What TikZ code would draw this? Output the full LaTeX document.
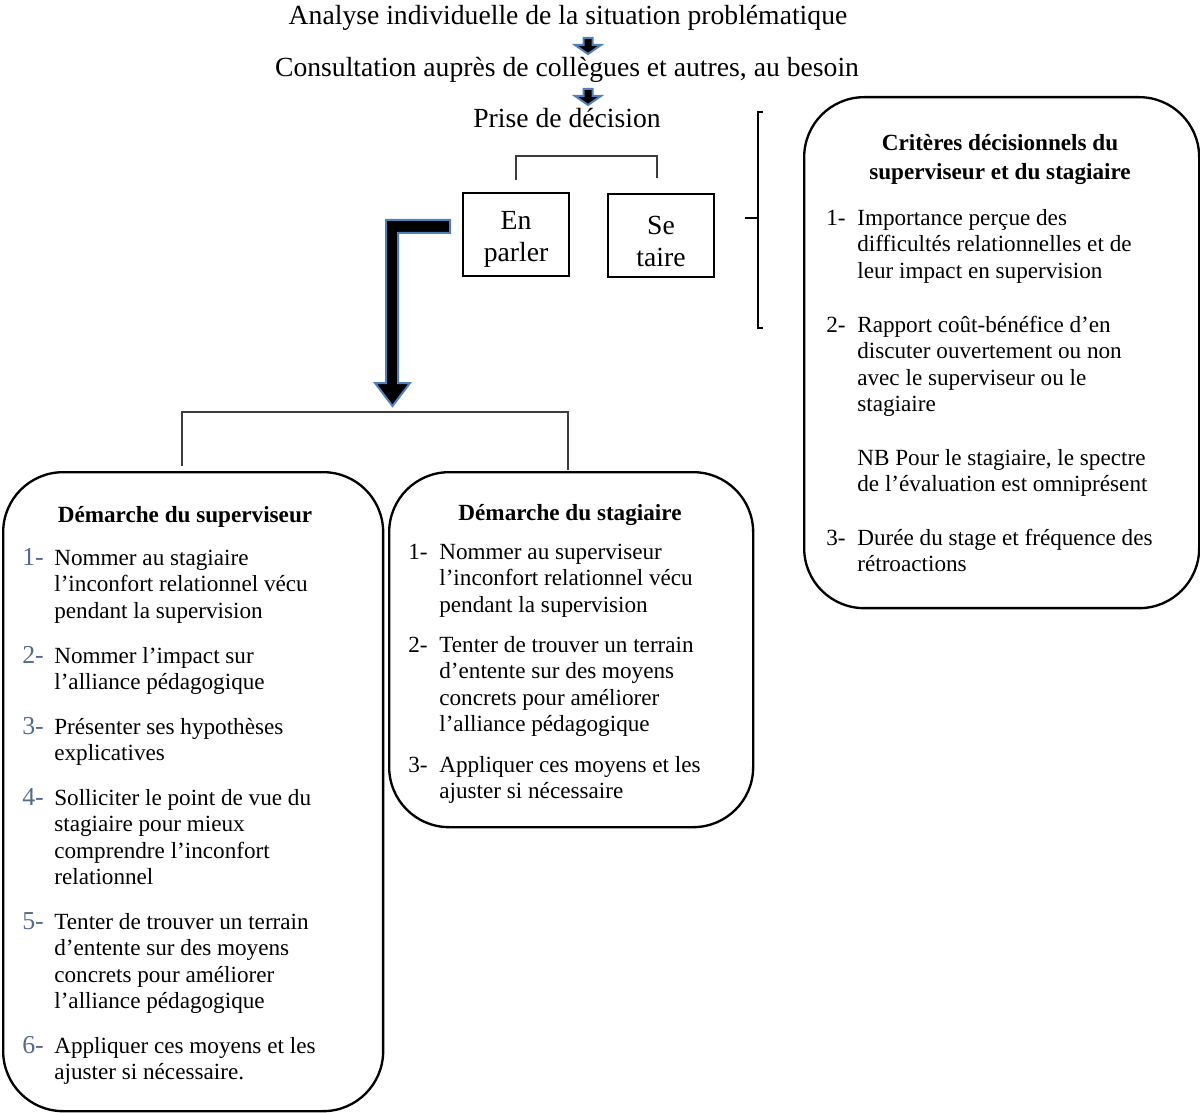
\documentclass[tikz,border=0pt]{standalone}
\usepackage{fontspec}
\setmainfont{Liberation Serif}
\usetikzlibrary{positioning}
\definecolor{arrowblue}{RGB}{79,129,189}
\definecolor{numgray}{RGB}{84,106,138}
\definecolor{bracketgray}{RGB}{60,60,60}

\tikzset{
  bigtxt/.style={font=\fontsize{16.6}{19.2}\selectfont},
  bodytxt/.style={font=\fontsize{13.9}{15.9}\selectfont, inner sep=0pt, align=left, anchor=north west, yshift=-1.2pt},
  headtxt/.style={font=\fontsize{13.9}{17.4}\selectfont\bfseries, inner sep=0pt, align=center, anchor=north},
  choicebox/.style={draw, line width=1.2pt, bigtxt, align=center, minimum width=63.6pt, minimum height=49.8pt, inner sep=0pt},
  roundbox/.style={draw, line width=1.4pt, rounded corners=36pt, anchor=north west, inner sep=0pt},
  blockarrow/.style={fill=black, draw=arrowblue, line width=1.2pt},
  bracket/.style={draw=bracketgray, line width=0.9pt}
}
\newcommand{\lnum}[1]{{\fontsize{15.5}{15.9}\selectfont\color{numgray}#1}}

\begin{document}
\begin{tikzpicture}[x=0.6pt, y=-0.6pt]
  \useasboundingbox (0,0) rectangle (1200,1113);

  % Steps at the top
  \node[bigtxt, anchor=north, inner sep=0pt] (analyse) at (568,2) {\strut Analyse individuelle de la situation problématique};
  \node[bigtxt, anchor=north, inner sep=0pt] (consult) at (567,53.6) {\strut Consultation auprès de collègues et autres, au besoin};
  \node[bigtxt, anchor=north, inner sep=0pt] (prise) at (567,104.6) {\strut Prise de décision};

  \foreach \y in {38,89}
    \draw[blockarrow] (583.5,\y) -- ++(9,0) -- ++(0,7) -- ++(8.5,0) -- ++(-13,9) -- ++(-13,-9) -- ++(8.5,0) -- cycle;

  % Decision
  \draw[bracket] (516,180) -- (516,156) -- (657,156) -- (657,178);
  \node[choicebox] (parler) at (516,234.5) {\rule{0pt}{17pt}En\\parler};
  \node[choicebox] (taire) at (661,236) {\rule{0pt}{17pt}Se\\taire};

  \draw[blockarrow] (450,220) -- (386,220) -- (386,383) -- (375,383) -- (392.5,406) -- (410,383) -- (398,383) -- (398,233) -- (450,233) -- cycle;

  % Criteria
  \draw[line width=1.2pt] (763,112) -- (758,112) -- (758,328) -- (763,328);
  \draw[line width=1.2pt] (745,218) -- (758,218);
  \node[roundbox, minimum width=237pt, minimum height=306.6pt] (criteres) at (803,96) {};
  \node[headtxt] (critTitle) at (1000,129.5) {\strut Critères décisionnels du\\superviseur et du stagiaire};
  \node[bodytxt] (cn1) at (826,204.5) {\strut 1-};
  \node[bodytxt] (c1) at (857,204.5) {\strut Importance perçue des\\difficultés relationnelles et de\\leur impact en supervision};
  \node[bodytxt] (cn2) at (826,311.5) {\strut 2-};
  \node[bodytxt] (c2) at (857,311.5) {\strut Rapport coût-bénéfice d’en\\discuter ouvertement ou non\\avec le superviseur ou le\\stagiaire};
  \node[bodytxt] (cnb) at (857,444.5) {\strut NB Pour le stagiaire, le spectre\\de l’évaluation est omniprésent};
  \node[bodytxt] (cn3) at (826,524.5) {\strut 3-};
  \node[bodytxt] (c3) at (857,524.5) {\strut Durée du stage et fréquence des\\rétroactions};

  % Two procedures
  \draw[bracket] (182,466) -- (182,412) -- (568,412) -- (568,470);

  \node[roundbox, minimum width=228pt, minimum height=383.4pt] (superviseur) at (2,471) {};
  \node[headtxt] (supTitle) at (185,501.5) {\strut Démarche du superviseur};
  \node[bodytxt] (sn1) at (22,544.5) {\strut\lnum{1-}};
  \node[bodytxt] (s1) at (54,544.5) {\strut Nommer au stagiaire\\l’inconfort relationnel vécu\\pendant la supervision};
  \node[bodytxt] (sn2) at (22,642.5) {\strut\lnum{2-}};
  \node[bodytxt] (s2) at (54,642.5) {\strut Nommer l’impact sur\\l’alliance pédagogique};
  \node[bodytxt] (sn3) at (22,713.5) {\strut\lnum{3-}};
  \node[bodytxt] (s3) at (54,713.5) {\strut Présenter ses hypothèses\\explicatives};
  \node[bodytxt] (sn4) at (22,784.5) {\strut\lnum{4-}};
  \node[bodytxt] (s4) at (54,784.5) {\strut Solliciter le point de vue du\\stagiaire pour mieux\\comprendre l’inconfort\\relationnel};
  \node[bodytxt] (sn5) at (22,908.5) {\strut\lnum{5-}};
  \node[bodytxt] (s5) at (54,908.5) {\strut Tenter de trouver un terrain\\d’entente sur des moyens\\concrets pour améliorer\\l’alliance pédagogique};
  \node[bodytxt] (sn6) at (22,1032.5) {\strut\lnum{6-}};
  \node[bodytxt] (s6) at (54,1032.5) {\strut Appliquer ces moyens et les\\ajuster si nécessaire.};

  \node[roundbox, minimum width=218.4pt, minimum height=213pt] (stagiaire) at (388,471) {};
  \node[headtxt] (stgTitle) at (570,499.5) {\strut Démarche du stagiaire};
  \node[bodytxt] (tn1) at (408,538.5) {\strut 1-};
  \node[bodytxt] (t1) at (439,538.5) {\strut Nommer au superviseur\\l’inconfort relationnel vécu\\pendant la supervision};
  \node[bodytxt] (tn2) at (408,631.5) {\strut 2-};
  \node[bodytxt] (t2) at (439,631.5) {\strut Tenter de trouver un terrain\\d’entente sur des moyens\\concrets pour améliorer\\l’alliance pédagogique};
  \node[bodytxt] (tn3) at (408,751.5) {\strut 3-};
  \node[bodytxt] (t3) at (439,751.5) {\strut Appliquer ces moyens et les\\ajuster si nécessaire};
\end{tikzpicture}
\end{document}
